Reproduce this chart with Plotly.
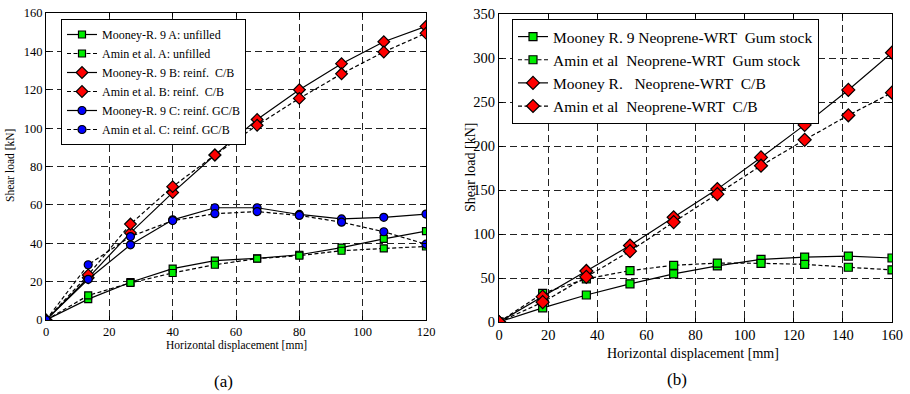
import plotly.graph_objects as go

# ---- data (a) ----
xa = [0, 13.33, 26.67, 40, 53.33, 66.67, 80, 93.33, 106.67, 120]
a_mooney_A = [0, 10.9, 19.7, 26.8, 30.9, 32.1, 34.0, 37.7, 42.3, 46.3]
a_amin_A   = [0, 12.8, 19.3, 24.5, 28.8, 32.0, 33.5, 36.1, 37.3, 38.3]
a_mooney_B = [0, 22.0, 45.4, 66.4, 86.0, 104.5, 120.0, 133.6, 145.0, 153.0]
a_amin_B   = [0, 23.5, 50.0, 69.5, 86.0, 101.5, 115.5, 128.3, 139.7, 149.5]
a_mooney_C = [0, 21.2, 39.2, 52.2, 58.5, 58.5, 55.0, 52.7, 53.5, 55.2]
a_amin_C   = [0, 28.8, 43.5, 51.8, 55.4, 56.5, 54.5, 51.0, 46.0, 39.5]
names_a = ["Mooney-R. 9 A: unfilled", "Amin et al. A: unfilled",
           "Mooney-R. 9 B: reinf.  C/B", "Amin et al. B: reinf.  C/B",
           "Mooney-R. 9 C: reinf. GC/B", "Amin et al. C: reinf. GC/B"]

# ---- data (b) ----
xb = [0, 17.78, 35.56, 53.33, 71.11, 88.89, 106.67, 124.44, 142.22, 160]
b_mooney_gum = [0, 16.1, 30.7, 43.4, 54.7, 63.7, 71.2, 73.8, 74.9, 72.7]
b_amin_gum   = [0, 32.6, 49.0, 58.4, 64.4, 67.0, 66.7, 65.5, 62.2, 59.2]
b_mooney_cb  = [0, 28.8, 58.0, 86.9, 119.0, 151.0, 187.0, 224.0, 263.7, 306.0]
b_amin_cb    = [0, 22.5, 51.3, 80.5, 113.5, 145.3, 177.6, 207.0, 234.9, 260.6]
names_b = ["Mooney R. 9 Neoprene-WRT  Gum stock", "Amin et al  Neoprene-WRT  Gum stock",
           "Mooney R.   Neoprene-WRT  C/B", "Amin et al  Neoprene-WRT  C/B"]

FONT = "Liberation Serif, Times New Roman, Times, serif"
GREEN = "#00ee00"
RED = "#ff0000"
BLUE = "#0000ff"
SERIES_DASH = "4px,2.5px"

fig = go.Figure()

def add(x, y, name, dash, symbol, color, size, xa_, ya_, legend):
    fig.add_trace(go.Scatter(
        x=x, y=y, name=name, mode="lines+markers",
        line=dict(color="black", width=1.2, dash=dash),
        marker=dict(symbol=symbol, color=color, size=size, line=dict(color="black", width=1.2)),
        xaxis=xa_, yaxis=ya_, legend=legend))

series_a = [(a_mooney_A, "solid", "square", GREEN, 7),
            (a_amin_A, SERIES_DASH, "square", GREEN, 7),
            (a_mooney_B, "solid", "diamond", RED, 9),
            (a_amin_B, SERIES_DASH, "diamond", RED, 9),
            (a_mooney_C, "solid", "circle", BLUE, 8),
            (a_amin_C, SERIES_DASH, "circle", BLUE, 8)]
for (y, d, s, c, sz), n in zip(series_a, names_a):
    add(xa, y, n, d, s, c, sz, "x", "y", "legend")

series_b = [(b_mooney_gum, "solid", "square", GREEN, 8),
            (b_amin_gum, SERIES_DASH, "square", GREEN, 8),
            (b_mooney_cb, "solid", "diamond", RED, 10),
            (b_amin_cb, SERIES_DASH, "diamond", RED, 10)]
for (y, d, s, c, sz), n in zip(series_b, names_b):
    add(xb, y, n, d, s, c, sz, "x2", "y2", "legend2")

grid = dict(showgrid=True, gridcolor="#222222", griddash="7px,4px", gridwidth=1,
            showline=True, linecolor="black", linewidth=1, mirror="ticks",
            ticks="inside", ticklen=4, tickcolor="black", zeroline=False,
            automargin=False)

fig.update_layout(
    template="none",
    width=910, height=394, margin=dict(l=0, r=0, t=0, b=0, autoexpand=False),
    paper_bgcolor="white", plot_bgcolor="white",
    font=dict(family=FONT, color="black"),
    xaxis=dict(domain=[46/910, 426/910], range=[0, 120], tickvals=[0, 20, 40, 60, 80, 100, 120],
               tickfont=dict(size=12.5, family=FONT), anchor="y", **grid),
    yaxis=dict(domain=[1-320/394, 1-13/394], range=[0, 160], tickvals=[0, 20, 40, 60, 80, 100, 120, 140, 160],
               tickfont=dict(size=12.5, family=FONT), anchor="x", **grid),
    xaxis2=dict(domain=[499/910, 892/910], range=[0, 160], tickvals=[0, 20, 40, 60, 80, 100, 120, 140, 160],
                tickfont=dict(size=14.5, family=FONT), anchor="y2", **grid),
    yaxis2=dict(domain=[1-322/394, 1-14/394], range=[0, 350], tickvals=[0, 50, 100, 150, 200, 250, 300, 350],
                tickfont=dict(size=14.5, family=FONT), anchor="x2", **grid),
    legend=dict(x=61/910, y=1-19/394, xanchor="left", yanchor="top", xref="paper", yref="paper",
                bgcolor="white", bordercolor="black", borderwidth=1,
                font=dict(size=12, family=FONT), tracegroupgap=0, itemwidth=30),
    legend2=dict(x=512/910, y=1-19/394, xanchor="left", yanchor="top", xref="paper", yref="paper",
                 bgcolor="white", bordercolor="black", borderwidth=1,
                 font=dict(size=15.5, family=FONT), tracegroupgap=0, itemwidth=30),
    showlegend=True,
)

ann = [
    dict(text="Shear load [kN]", x=10/910, y=1-166/394, textangle=-90, font=dict(size=11.5, family=FONT)),
    dict(text="Shear load [kN]", x=471/910, y=1-168/394, textangle=-90, font=dict(size=14, family=FONT)),
    dict(text="Horizontal displacement [mm]", x=236/910, y=1-345/394, font=dict(size=11.5, family=FONT)),
    dict(text="Horizontal displacement [mm]", x=693/910, y=1-353/394, font=dict(size=14, family=FONT)),
    dict(text="(a)", x=223/910, y=1-381/394, font=dict(size=17, family=FONT)),
    dict(text="(b)", x=677/910, y=1-379/394, font=dict(size=17, family=FONT)),
]
for a in ann:
    fig.add_annotation(xref="paper", yref="paper", showarrow=False,
                       xanchor="center", yanchor="middle", **a)

fig.write_html("out.html", config={"displayModeBar": False},
               post_script="document.body.style.margin='0';document.body.style.overflow='hidden';")
